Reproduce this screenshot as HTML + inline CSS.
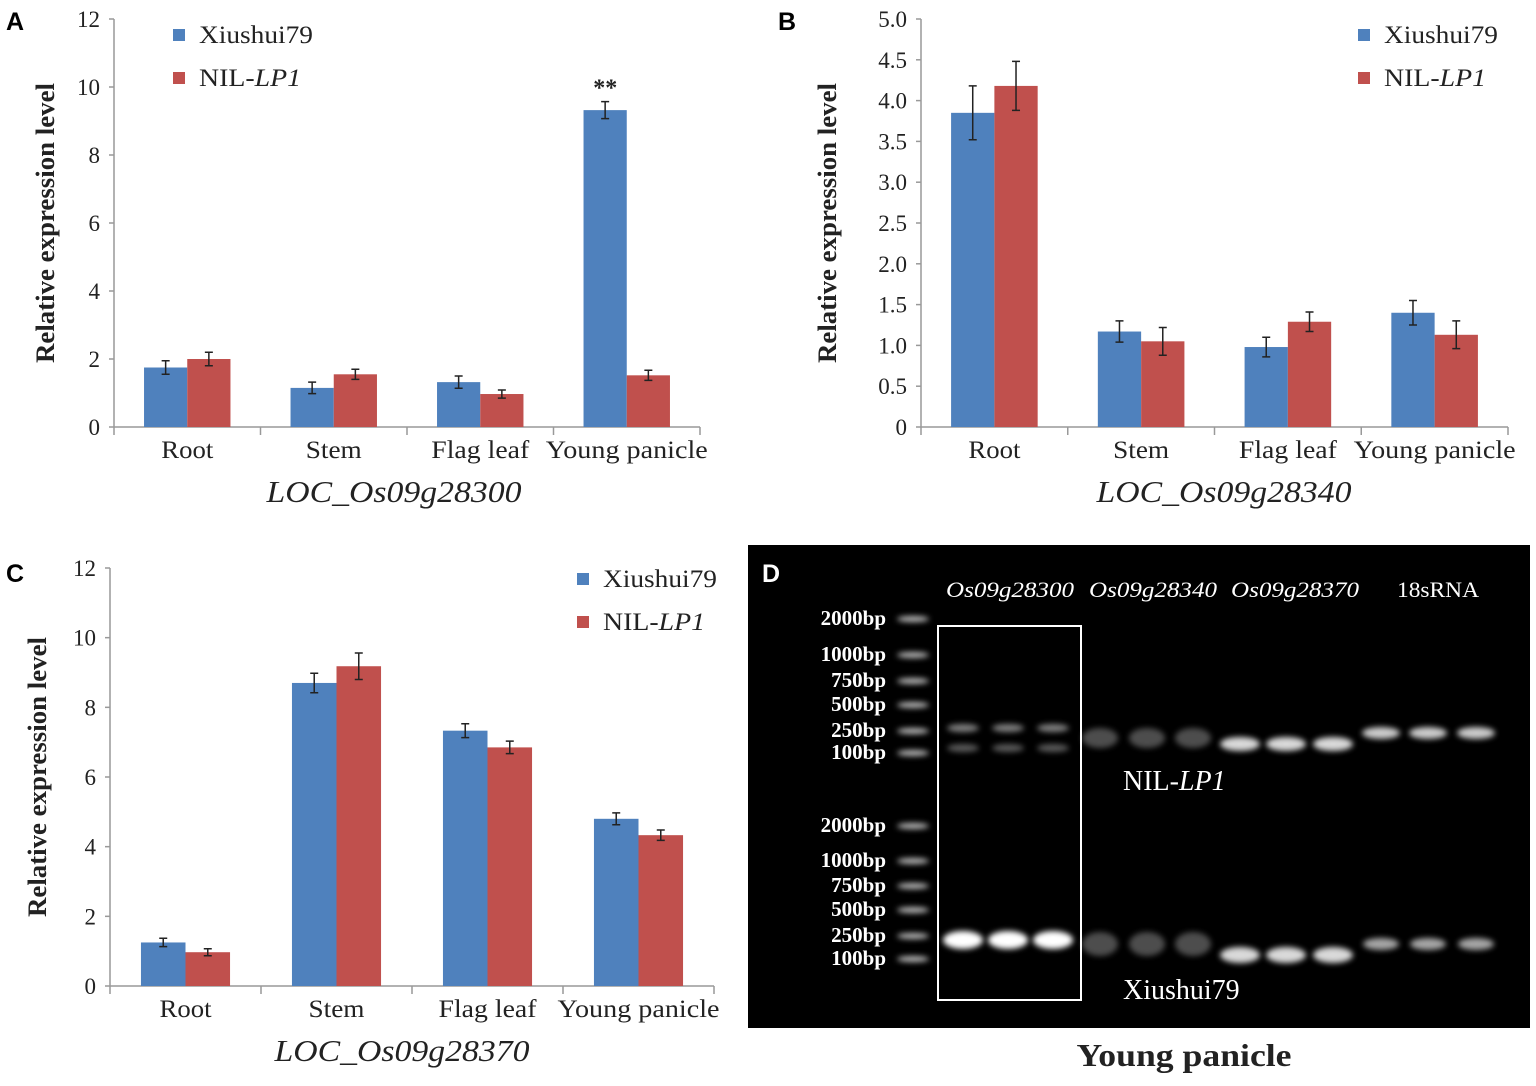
<!DOCTYPE html>
<html><head><meta charset="utf-8"><style>
body{margin:0;background:#fff;}
svg text{font-family:"Liberation Serif",serif;}
</style></head><body>
<svg id="fig" width="1536" height="1081" viewBox="0 0 1536 1081" xmlns="http://www.w3.org/2000/svg">
<defs>
<filter id="blur" x="-50%" y="-100%" width="200%" height="300%"><feGaussianBlur stdDeviation="3"/></filter>
</defs>
<g id="root"></g>
</svg>
<script>
const categories = ["Root","Stem","Flag leaf","Young panicle"];
const seriesNames = ["Xiushui79","NIL-LP1"];
const aXiu = [1.75,1.15,1.32,9.32];
const aNil = [2.0,1.55,0.97,1.52];
const aXiuErr = [0.2,0.17,0.18,0.25];
const aNilErr = [0.2,0.15,0.12,0.15];
const aTicks = [0,2,4,6,8,10,12];
const bXiu = [3.85,1.17,0.98,1.40];
const bNil = [4.18,1.05,1.29,1.13];
const bXiuErr = [0.33,0.13,0.12,0.15];
const bNilErr = [0.3,0.17,0.12,0.17];
const bTicks = ["0","0.5","1.0","1.5","2.0","2.5","3.0","3.5","4.0","4.5","5.0"];
const cXiu = [1.25,8.7,7.33,4.8];
const cNil = [0.97,9.18,6.85,4.33];
const cXiuErr = [0.12,0.28,0.2,0.17];
const cNilErr = [0.1,0.38,0.18,0.15];
const cTicks = [0,2,4,6,8,10,12];

const NS="http://www.w3.org/2000/svg";
const root=document.getElementById('root');
function el(tag,attrs,parent,text){const e=document.createElementNS(NS,tag);for(const k in attrs)e.setAttribute(k,attrs[k]);if(text!==undefined)e.textContent=text;(parent||root).appendChild(e);return e;}
const BLUE="#4f81bd", RED="#c0504d";
const catLen={"Root":52,"Stem":56,"Flag leaf":98,"Young panicle":162};

function panel(o){
  const g=el('g',{});
  
  
  const y=v=>o.y0-(v-o.tmin)/(o.tmax-o.tmin)*(o.y0-o.y1);
  const cw=(o.x1-o.x0)/categories.length;
  const ya=el('line',{x1:o.x0,y1:o.y1,x2:o.x0,y2:o.y0,stroke:'#999','stroke-width':1.5},g);
  
  const xa=el('line',{x1:o.x0,y1:o.y0,x2:o.x1,y2:o.y0,stroke:'#999','stroke-width':1.5},g);
  
  o.ticks.forEach(t=>{
    const v=parseFloat(t);
    el('line',{x1:o.x0-5,y1:y(v),x2:o.x0,y2:y(v),stroke:'#999','stroke-width':1.5},g);
    const tl=el('text',{x:o.x0-14,y:y(v)+8,'text-anchor':'end','font-size':23,fill:'#222'},g,String(t));
    
  });
  for(let i=0;i<=categories.length;i++){el('line',{x1:o.x0+i*cw,y1:o.y0,x2:o.x0+i*cw,y2:o.y0+8,stroke:'#999','stroke-width':1.5},g);}
  const bw=cw*0.295;
  categories.forEach((c,i)=>{
    const cx=o.x0+cw*(i+0.5);
    [[o.xiu,o.xiuE,BLUE,-1],[o.nil,o.nilE,RED,0]].forEach(([vals,errs,col,off],s)=>{
      const bx=cx+off*bw;
      const r=el('rect',{x:bx,y:y(vals[i]),width:bw,height:o.y0-y(vals[i]),fill:col},g);
      
      
      const ex=bx+bw/2, ya2=y(vals[i]+errs[i]), yb=y(vals[i]-errs[i]);
      const eb=el('path',{d:`M${ex},${ya2}V${yb}M${ex-4},${ya2}H${ex+4}M${ex-4},${yb}H${ex+4}`,stroke:'#222','stroke-width':1.5,fill:'none'},g);
      
    });
    const cl=el('text',{x:cx,y:o.y0+31,'text-anchor':'middle','font-size':25,textLength:catLen[c],lengthAdjust:'spacingAndGlyphs',fill:'#222'},g,c);
    
  });
  const yt=el('text',{x:0,y:0,transform:`translate(${o.ytx},${(o.y0+o.y1)/2}) rotate(-90)`,'text-anchor':'middle','font-size':26,'font-weight':'bold',textLength:280,lengthAdjust:'spacingAndGlyphs',fill:'#222'},g,'Relative expression level');
  
  const xt=el('text',{x:o.xtc,y:o.y0+75,'text-anchor':'middle','font-size':31,'font-style':'italic',textLength:255,lengthAdjust:'spacingAndGlyphs',fill:'#222'},g,o.gene);
  
  const pl=el('text',{x:o.lx,y:o.ly,'font-size':25,'font-weight':'bold',style:'font-family:"Liberation Sans",sans-serif',fill:'#000'},g,o.letter);
  
  const lg=el('g',{},g);
  
  [[BLUE,'Xiushui79',0],[RED,'NIL-',1]].forEach(([col,t,k])=>{
    const e=el('g',{},lg);
    
    el('rect',{x:o.legx,y:o.legy+k*43-6,width:12,height:12,fill:col},e);
    const tx=el('text',{x:o.legx+26,y:o.legy+k*43+8,'font-size':25,textLength:k?102:114,lengthAdjust:'spacingAndGlyphs',fill:'#222'},e,t);
    if(k){el('tspan',{'font-style':'italic'},tx,'LP1');}
  });
  return {g,y,cw};
}
const A=panel({name:'panel-a-chart',letter:'A',lx:6,ly:30,x0:114,x1:700,y0:427,y1:19,tmin:0,tmax:12,ticks:aTicks,xiu:aXiu,nil:aNil,xiuE:aXiuErr,nilE:aNilErr,gene:'LOC_Os09g28300',xtc:394,ytx:54,legx:173,legy:35});
const st=el('text',{x:114+146.5*3.5-146.5*0.147,y:A.y(aXiu[3]+aXiuErr[3])-6,'text-anchor':'middle','font-size':24,'font-weight':'bold',fill:'#222'},A.g,'**');

panel({name:'panel-b-chart',letter:'B',lx:778,ly:30,x0:921,x1:1508,y0:427,y1:19,tmin:0,tmax:5,ticks:bTicks,xiu:bXiu,nil:bNil,xiuE:bXiuErr,nilE:bNilErr,gene:'LOC_Os09g28340',xtc:1224,ytx:836,legx:1358,legy:35});
panel({name:'panel-c-chart',letter:'C',lx:6,ly:582,x0:110,x1:714,y0:986,y1:568,tmin:0,tmax:12,ticks:cTicks,xiu:cXiu,nil:cNil,xiuE:cXiuErr,nilE:cNilErr,gene:'LOC_Os09g28370',xtc:402,ytx:46,legx:577,legy:579});

const gel=el('g',{});

el('rect',{x:748,y:545,width:782,height:483,fill:'#000'},gel);
el('text',{x:762,y:582,'font-size':25,'font-weight':'bold',style:'font-family:"Liberation Sans",sans-serif',fill:'#fff'},gel,'D');
const geneLabels=['Os09g28300','Os09g28340','Os09g28370','18sRNA'];
const geneX=[1010,1153,1295,1438];
geneLabels.forEach((t,i)=>{const tt=el('text',{x:geneX[i],y:597,'text-anchor':'middle','font-size':22,'font-style':i<3?'italic':'normal',textLength:i<3?128:82,lengthAdjust:'spacingAndGlyphs',fill:'#fff'},gel,t);
});
const ladder=['2000bp','1000bp','750bp','500bp','250bp','100bp'];
const ladTop=[618,654,680,704,730,752];
const ladBot=[825,860,885,909,935,958];
[ladTop,ladBot].forEach(arr=>arr.forEach((yy,i)=>{
  const t=el('text',{x:886,y:yy+7,'text-anchor':'end','font-size':21,'font-weight':'bold',fill:'#fff'},gel,ladder[i]);
  
  el('ellipse',{cx:913,cy:yy+1,rx:16,ry:3,fill:'#bbb',filter:'url(#blur)'},gel);
}));
const box=el('rect',{x:938,y:626,width:143,height:374,fill:'none',stroke:'#fff','stroke-width':2},gel);

const laneX=[963,1008,1053,1100,1147,1193,1240,1286,1333,1381,1428,1476];
function band(x,y,w,h,op){el('ellipse',{cx:x,cy:y,rx:w,ry:h,fill:'#fff',opacity:op,filter:'url(#blur)'},gel);}
laneX.forEach((x,i)=>{
  const grp=Math.floor(i/3);
  if(grp===0){band(x,728,16,4,0.5);band(x,748,16,4,0.35);band(x,940,20,9,1);}
  if(grp===1){band(x,738,18,10,0.3);band(x,944,18,12,0.3);}
  if(grp===2){band(x,744,20,7,0.85);band(x,955,20,8,0.85);}
  if(grp===3){band(x,733,19,6,0.8);band(x,944,18,6,0.65);}
});
const nl=el('text',{x:1123,y:790,'font-size':28,fill:'#fff'},gel,'NIL-');
el('tspan',{'font-style':'italic'},nl,'LP1');
el('text',{x:1123,y:999,'font-size':28,fill:'#fff'},gel,'Xiushui79');
const yp=el('text',{x:1184,y:1066,'text-anchor':'middle','font-size':32,'font-weight':'bold',textLength:215,lengthAdjust:'spacingAndGlyphs',fill:'#222'},root,'Young panicle');

</script>
</body></html>
